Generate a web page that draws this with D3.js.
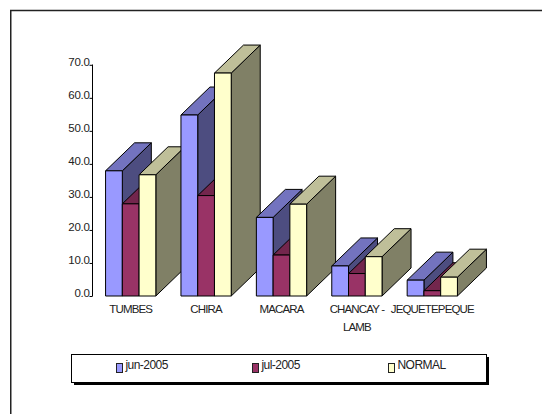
<!DOCTYPE html>
<html><head><meta charset="utf-8">
<script src="https://cdn.jsdelivr.net/npm/d3@7"></script>
<style>html,body{margin:0;padding:0;background:#fff}svg{display:block}text{font-family:"Liberation Sans",Arial,sans-serif;fill:#222}</style>
</head><body><svg id="c" width="542" height="414"></svg>
<script>
const categories = ["TUMBES","CHIRA","MACARA","CHANCAY - LAMB","JEQUETEPEQUE"];
const seriesNames = ["jun-2005","jul-2005","NORMAL"];
const jun2005 = [37.9,54.8,23.8,9.1,4.8];
const jul2005 = [27.9,30.4,12.4,6.8,1.6];
const normal = [36.7,67.5,27.8,11.9,5.7];
const tickValues = [0,10,20,30,40,50,60,70];
const seriesValues = [jun2005,jul2005,normal];
const faceColors = ["#9999FF","#993366","#FFFFCC"];
const topColors = ["#7373BF","#73264D","#BFBF99"];
const sideColors = ["#4D4D80","#4D1A33","#808066"];

const svg = d3.select("#c");
const y = d3.scaleLinear().domain([0,70]).range([296,64.8]);
const x0 = d3.scaleBand().domain(categories).range([93,470]).paddingInner(1/3).paddingOuter(1/6);
const x1 = d3.scaleBand().domain(d3.range(3)).range([0,x0.bandwidth()]);
const dx = 29, dy = 28;

svg.append("rect").attr("x",10.75).attr("y",10.5).attr("width",600).attr("height",500).attr("fill","#fff").attr("stroke","#222").attr("stroke-width",1.5);

const poly = (pts,fill)=>svg.append("polygon").attr("points",pts.map(p=>p.join(",")).join(" "))
  .attr("fill",fill).attr("stroke","#000").attr("stroke-width",1).attr("stroke-linejoin","round");

categories.forEach((c,i)=>{
  seriesValues.forEach((vals,s)=>{
    const l=x0(c)+x1(s), r=l+x1.bandwidth(), t=y(vals[i]), b=y(0);
    poly([[r,t],[r+dx,t-dy],[r+dx,b-dy],[r,b]],sideColors[s]);
    poly([[l,t],[l+dx,t-dy],[r+dx,t-dy],[r,t]],topColors[s]);
    poly([[l,t],[r,t],[r,b],[l,b]],faceColors[s]);
  });
});

const yAxis = d3.axisLeft(y).tickValues(tickValues).tickSize(3).tickPadding(0).tickFormat(d3.format(".1f"));
const gy = svg.append("g").attr("transform","translate(92.5,0)").call(yAxis);
gy.selectAll("path,line").attr("stroke","#000");
gy.select("path").attr("d",`M0.5,${y(70)}H0V${y(0)}H0.5`);
gy.selectAll("text").attr("font-size",11.5).attr("letter-spacing",-0.3).attr("dy","0.05em").attr("fill","#222");

const lbl = svg.append("g").attr("font-size",11.5).attr("letter-spacing",-0.85).attr("text-anchor","middle");
categories.forEach(c=>{
  const cx=x0(c)+x0.bandwidth()/2;
  const parts = c==="CHANCAY - LAMB" ? ["CHANCAY -","LAMB"] : [c];
  parts.forEach((p,j)=>lbl.append("text").attr("x",cx).attr("y",313+j*17.5).text(p));
});

svg.append("rect").attr("x",74).attr("y",357).attr("width",415).attr("height",28).attr("fill","#000");
svg.append("rect").attr("x",71.5).attr("y",354.5).attr("width",415).attr("height",28).attr("fill","#fff").attr("stroke","#000");
const legendX = d3.scalePoint().domain(seriesNames).range([116,388]);
seriesNames.forEach((n,s)=>{
  const lx=legendX(n);
  svg.append("rect").attr("x",lx+.5).attr("y",363.5).attr("width",6).attr("height",9).attr("fill",faceColors[s]).attr("stroke","#222");
  svg.append("text").attr("x",lx+9.5).attr("y",369).attr("font-size",12).attr("letter-spacing",-0.55).text(n);
});
</script></body></html>
